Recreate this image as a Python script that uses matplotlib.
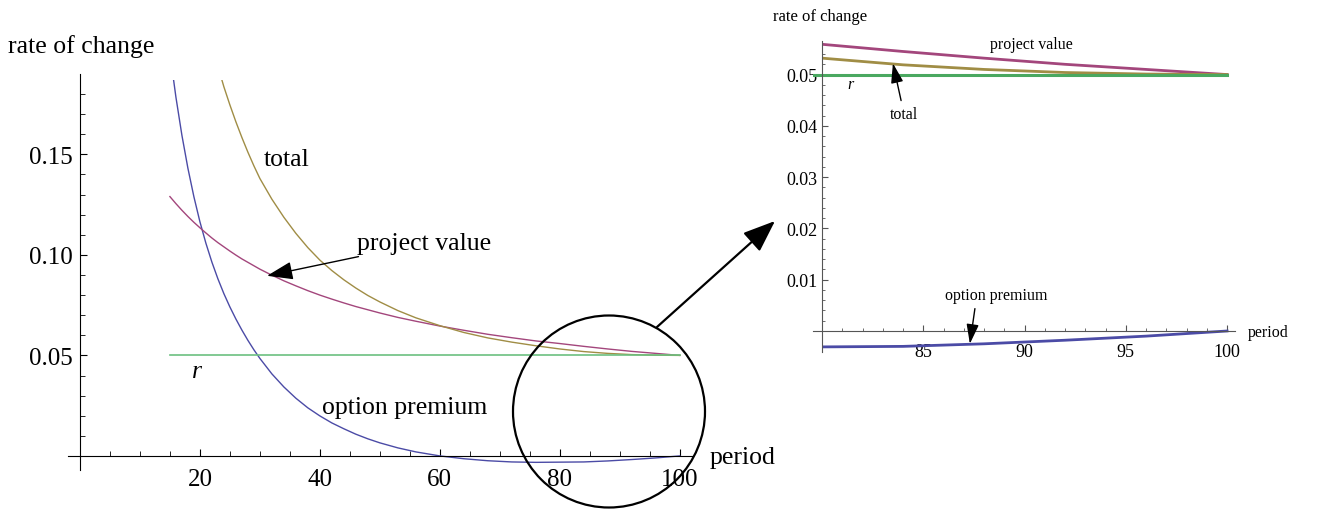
import matplotlib
matplotlib.use("Agg")
import matplotlib.pyplot as plt
from matplotlib.patches import Rectangle, Circle, FancyArrowPatch

plt.rcParams["font.family"] = ["Liberation Serif", "DejaVu Serif"]

# values
period = [15, 16, 17, 18, 19, 20, 21, 22, 23, 24, 25, 26, 27, 28, 29, 30,
          32, 34, 36, 38, 40, 42, 44, 46, 48, 50, 53, 56,
          60, 64, 68, 72, 76, 80, 84, 88, 92, 96, 100]
option_premium = [0.2005, 0.1785, 0.1595, 0.1431, 0.1289, 0.1165, 0.1058, 0.0964,
                  0.0881, 0.0807, 0.0741, 0.0681, 0.0626, 0.0575, 0.0528, 0.0485,
                  0.0408, 0.0343, 0.0287, 0.0239, 0.0199, 0.0164, 0.0135, 0.0108,
                  0.0085, 0.0065, 0.0040, 0.0020,
                  0.0, -0.0014, -0.0024, -0.0030, -0.0032, -0.0031, -0.0030,
                  -0.0025, -0.0018, -0.0010, 0.0]
project_value = [0.1290, 0.1255, 0.1222, 0.1191, 0.1162, 0.1135, 0.1109, 0.1084,
                 0.1061, 0.1040, 0.1019, 0.0999, 0.0980, 0.0963, 0.0946, 0.0929,
                 0.0899, 0.0871, 0.0846, 0.0822, 0.0800, 0.0780, 0.0761, 0.0743,
                 0.0727, 0.0711, 0.0689, 0.0670,
                 0.0646, 0.0625, 0.0605, 0.0588, 0.0572, 0.0559, 0.0545, 0.0532,
                 0.0520, 0.0510, 0.0500]
total = [0.3119, 0.2928, 0.2750, 0.2587, 0.2437, 0.2300, 0.2170, 0.2049,
         0.1938, 0.1836, 0.1746, 0.1662, 0.1584, 0.1511, 0.1443, 0.1380,
         0.1277, 0.1187, 0.1107, 0.1036, 0.0974, 0.0922, 0.0876, 0.0835,
         0.0798, 0.0766, 0.0723, 0.0687,
         0.0648, 0.0614, 0.0587, 0.0566, 0.0548, 0.0532, 0.0519, 0.0510,
         0.0504, 0.0501, 0.0500]
r_period = [15, 100]
r_rate = [0.05, 0.05]

c_opt = "#4b4ba6"
c_proj = "#a3467c"
c_tot = "#a08d45"
c_r = "#6cc080"

fig = plt.figure(figsize=(13.27, 5.10), dpi=100)

# main panel
ax1 = fig.add_axes([0.0512, 0.0765, 0.4710, 0.7765])
clip1 = Rectangle((-2, -0.007), 104.2, 0.194, transform=ax1.transData)
for y, c in [(option_premium, c_opt), (project_value, c_proj), (total, c_tot)]:
    ln, = ax1.plot(period, y, color=c, lw=1)
    ln.set_clip_path(clip1)
ax1.plot(r_period, r_rate, color=c_r, lw=1.2)
ax1.set_xlim(-2, 102.2)
ax1.set_ylim(-0.007, 0.19)
ax1.spines["left"].set_position(("data", 0))
ax1.spines["bottom"].set_position(("data", 0))
ax1.spines["top"].set_visible(False)
ax1.spines["right"].set_visible(False)
ax1.set_xticks([20, 40, 60, 80, 100])
ax1.set_xticks(range(5, 101, 5), minor=True)
ax1.set_yticks([0.05, 0.10, 0.15])
ax1.set_yticklabels(["0.05", "0.10", "0.15"])
ax1.set_yticks([i / 100 for i in range(1, 19)], minor=True)
ax1.tick_params(which="both", direction="in", labelsize=18)
ax1.tick_params(which="major", length=5)
ax1.tick_params(which="minor", length=3.4)
ax1.tick_params(axis="x", pad=9)
ax1.tick_params(axis="y", pad=5)
ax1.text(-12, 0.204, "rate of change", fontsize=18.5, ha="left", va="center")
ax1.text(105, -0.0005, "period", fontsize=18.5, ha="left", va="center")
ax1.text(34.5, 0.1478, "total", fontsize=18.5, ha="center", va="center")
ax1.text(19.5, 0.0423, "r", fontsize=18.5, style="italic", ha="center", va="center")
ax1.text(54.2, 0.0244, "option premium", fontsize=18.5, ha="center", va="center")
ax1.annotate("project value", xy=(31.2, 0.0896), xytext=(46.2, 0.106),
             fontsize=18.5, ha="left", va="center",
             arrowprops=dict(arrowstyle="-|>,head_length=0.8,head_width=0.28",
                             mutation_scale=20, color="k", lw=1, shrinkA=0, shrinkB=0))

# zoomed panel
ax2 = fig.add_axes([0.6126, 0.3078, 0.3182, 0.6094])
clip2 = Rectangle((80, -0.0041), 20.4, 0.0606, transform=ax2.transData)
for y, c in [(option_premium, c_opt), (project_value, c_proj), (total, c_tot)]:
    ln, = ax2.plot(period, y, color=c, lw=2)
    ln.set_clip_path(clip2)
ax2.plot(r_period, r_rate, color="#4aa860", lw=2.2)
ax2.set_xlim(79.55, 100.4)
ax2.set_ylim(-0.0041, 0.0565)
ax2.spines["left"].set_position(("data", 80))
ax2.spines["bottom"].set_position(("data", 0))
ax2.spines["top"].set_visible(False)
ax2.spines["right"].set_visible(False)
for s in ["left", "bottom"]:
    ax2.spines[s].set_color("#555555")
ax2.set_xticks([85, 90, 95, 100])
ax2.set_xticks(range(81, 101), minor=True)
ax2.set_yticks([0.01, 0.02, 0.03, 0.04, 0.05])
ax2.set_yticklabels(["0.01", "0.02", "0.03", "0.04", "0.05"])
ax2.set_yticks([i / 500 for i in range(1, 29)], minor=True)
ax2.tick_params(which="both", direction="in", labelsize=13, color="#555555")
ax2.tick_params(which="major", length=4)
ax2.tick_params(which="minor", length=2.5)
ax2.tick_params(axis="x", pad=9)
ax2.tick_params(axis="y", pad=3.5)
ax2.text(77.58, 0.0614, "rate of change", fontsize=12, ha="left", va="center")
ax2.text(101, -0.0002, "period", fontsize=11.5, ha="left", va="center")
ax2.text(90.32, 0.0559, "project value", fontsize=11.5, ha="center", va="center")
ax2.text(81.38, 0.0481, "r", fontsize=11.5, style="italic", ha="center", va="center")
ax2.annotate("total", xy=(83.5, 0.0522), xytext=(84.05, 0.0423),
             fontsize=11.5, ha="center", va="center",
             arrowprops=dict(arrowstyle="-|>,head_length=0.8,head_width=0.25",
                             mutation_scale=15, color="k", lw=1, shrinkA=2, shrinkB=0))
ax2.annotate("option premium", xy=(87.3, -0.0025), xytext=(88.6, 0.0070),
             fontsize=11.5, ha="center", va="center",
             arrowprops=dict(arrowstyle="-|>,head_length=0.8,head_width=0.25",
                             mutation_scale=15, color="k", lw=1, shrinkA=2, shrinkB=0,
                             relpos=(0.3, 0)))

# magnifier circle and arrow
fig.patches.append(Circle((6.09, 0.975), 0.96, transform=fig.dpi_scale_trans,
                          fill=False, ec="k", lw=1.6))
fig.add_artist(FancyArrowPatch(
    (6.57, 1.82), (7.75, 2.88), transform=fig.dpi_scale_trans,
    arrowstyle="-|>,head_length=0.9,head_width=0.35", mutation_scale=22,
    color="k", lw=1.6, shrinkA=0, shrinkB=0))

fig.savefig("out.png", dpi=100)
